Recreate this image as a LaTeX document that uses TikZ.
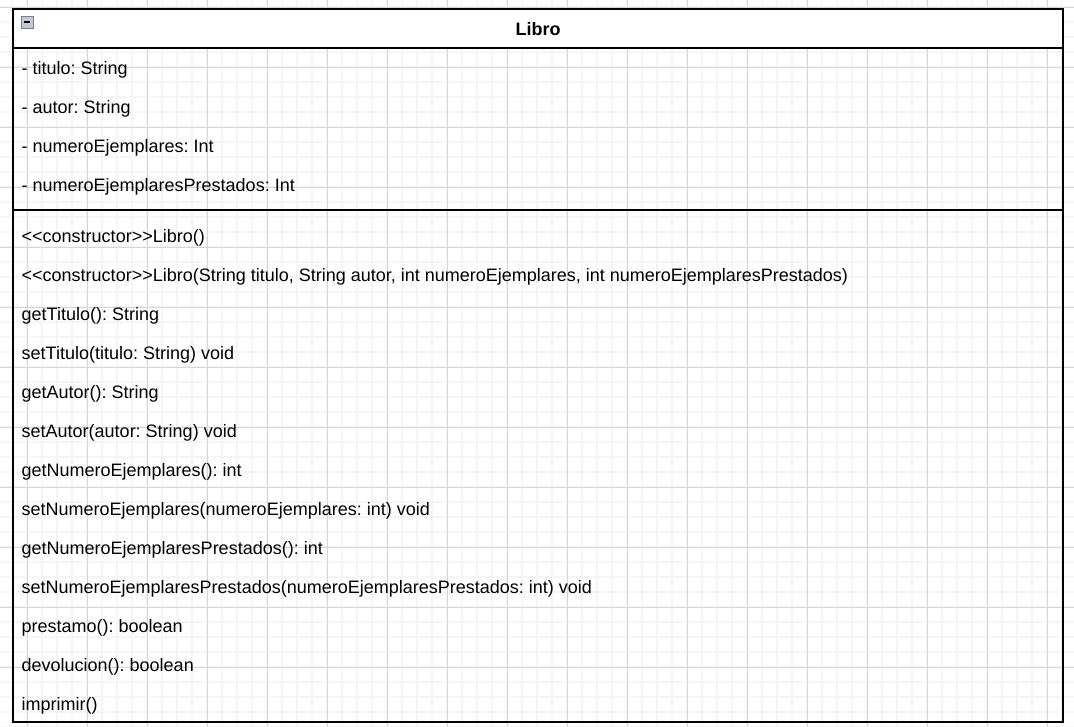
\documentclass[tikz,border=0pt]{standalone}
\usepackage{fontspec}
\setmainfont{Liberation Sans}
\frenchspacing
\definecolor{minorgrid}{RGB}{245,245,245}
\definecolor{majorgrid}{RGB}{214,214,214}
\definecolor{iconfill}{RGB}{196,200,212}
\definecolor{icondraw}{RGB}{120,126,142}

\begin{document}
\begin{tikzpicture}[x=1pt,y=-1pt,
    member/.style={anchor=base west,inner sep=0pt,font=\fontsize{18}{21}\selectfont},
    classname/.style={anchor=base,inner sep=0pt,font=\fontsize{18}{21}\selectfont\bfseries},
    frame/.style={line width=1.6pt,draw=black}]
        \useasboundingbox (0,0) rectangle (1074,727);

        % background grid
        \foreach \x in {12,27,...,1074} {
          \draw[minorgrid,line width=1.6pt] (\x,0) -- (\x,727);
        }
        \foreach \y in {7,22,...,727} {
          \draw[minorgrid,line width=1.6pt] (0,\y) -- (1074,\y);
        }
        \foreach \x in {27,87,...,1074} {
          \draw[majorgrid,line width=0.9pt] (\x,0) -- (\x,727);
        }
        \foreach \y in {7,67,...,727} {
          \draw[majorgrid,line width=0.9pt] (0,\y) -- (1074,\y);
        }

        % class box
        \draw[frame,fill=white] (13,9) rectangle (1063,48);
        \draw[frame] (13,48) rectangle (1063,722);
        \draw[frame] (13,210) -- (1063,210);

        % collapse icon
        \draw[draw=icondraw,fill=iconfill] (21,16) rectangle (33,28);
        \draw[line width=1.3pt] (24,22) -- (30,22);

        \node[classname] (libro) at (538,35.5) {Libro};

        \foreach \t [count=\i] in {- titulo: String,
            - autor: String,
            - numeroEjemplares: Int,
            - numeroEjemplaresPrestados: Int} {
          \node[member] (a\i) at (21.5,35.5+39*\i) {\t};
        }

        \foreach \t [count=\i] in {<{}<constructor>{}>Libro(),
            {<{}<constructor>{}>Libro(String titulo, String autor, int numeroEjemplares, int numeroEjemplaresPrestados)},
            getTitulo(): String,
            setTitulo(titulo: String) void,
            getAutor(): String,
            setAutor(autor: String) void,
            getNumeroEjemplares(): int,
            setNumeroEjemplares(numeroEjemplares: int) void,
            getNumeroEjemplaresPrestados(): int,
            setNumeroEjemplaresPrestados(numeroEjemplaresPrestados: int) void,
            prestamo(): boolean,
            devolucion(): boolean,
            imprimir()} {
          \node[member] (m\i) at (21.5,203.5+39*\i) {\t};
        }
      \end{tikzpicture}
\end{document}
